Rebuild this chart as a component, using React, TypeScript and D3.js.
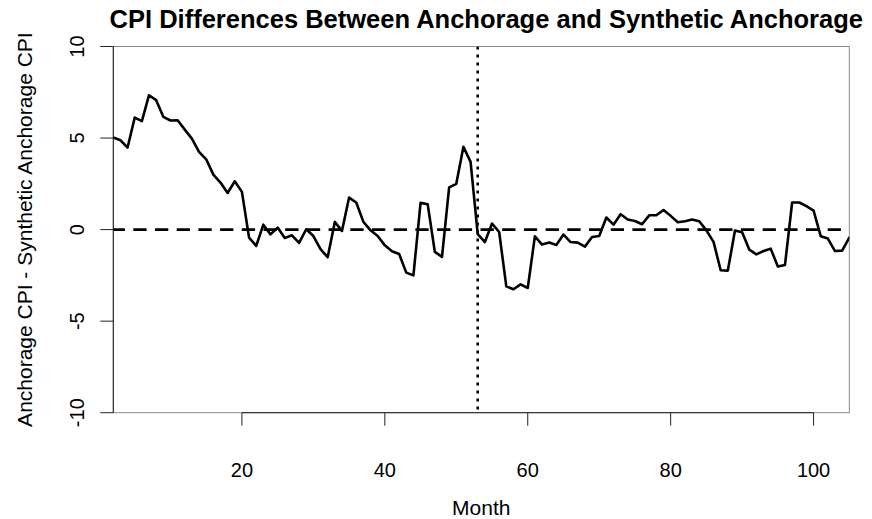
import React from 'react';
import * as d3 from 'd3';

// monthly CPI gap, Anchorage minus synthetic Anchorage (month 2 .. 105)
const startMonth = 2;
const cpiDiff = [
  5.03, 4.88, 4.48, 6.12, 5.92, 7.34, 7.07, 6.16, 5.96, 5.97,
  5.46, 4.97, 4.24, 3.84, 3.0, 2.57, 2.0, 2.64, 2.06, -0.44,
  -0.89, 0.27, -0.26, 0.11, -0.46, -0.31, -0.73, 0.02, -0.35, -1.07,
  -1.51, 0.42, -0.07, 1.75, 1.48, 0.42, -0.04, -0.35, -0.86, -1.18,
  -1.33, -2.35, -2.5, 1.46, 1.38, -1.22, -1.49, 2.31, 2.5, 4.52,
  3.7, -0.25, -0.68, 0.33, -0.13, -3.1, -3.26, -2.99, -3.19, -0.37,
  -0.82, -0.71, -0.84, -0.27, -0.68, -0.71, -0.93, -0.4, -0.35, 0.66,
  0.27, 0.84, 0.55, 0.47, 0.29, 0.78, 0.78, 1.07, 0.75, 0.4,
  0.46, 0.55, 0.46, -0.04, -0.67, -2.22, -2.24, -0.05, -0.15, -1.09,
  -1.35, -1.17, -1.04, -2.02, -1.93, 1.48, 1.48, 1.28, 1.04, -0.36,
  -0.49, -1.17, -1.15, -0.44,
];
const xTicks = [20, 40, 60, 80, 100];
const yTicks = [-10, -5, 0, 5, 10];
const treatmentMonth = 53;

const width = 872;
const height = 519;
const font = '"Liberation Sans", Arial, Helvetica, sans-serif';

export default function App() {
  const points = cpiDiff.map((v, i) => ({ month: startMonth + i, value: v }));

  const x = d3.scaleLinear()
    .domain([startMonth, startMonth + cpiDiff.length - 1])
    .range([113.3, 849.3]);
  const y = d3.scaleLinear().domain([-10, 10]).range([412.7, 46.5]);

  const line = d3.line<{ month: number; value: number }>()
    .x(d => x(d.month))
    .y(d => y(d.value));

  const [x0, x1] = x.range();
  const [y0, y1] = y.range();

  return (
    <svg width={width} height={height}
      style={{ position: 'absolute', left: 0, top: 0, background: '#fff' }}
      fontFamily={font}>
      <defs>
        <clipPath id="plot">
          <rect x={x0} y={y1} width={x1 - x0} height={y0 - y1} />
        </clipPath>
      </defs>

      {/* title */}
      <text x={(x0 + x1) / 2 + 5} y={28} textAnchor="middle" fontSize={25.5} fontWeight="bold">
        CPI Differences Between Anchorage and Synthetic Anchorage
      </text>

      {/* plot box */}
      <rect x={x0} y={y1} width={x1 - x0} height={y0 - y1} fill="none" stroke="#8a8a8a" strokeWidth={1} />

      <g clipPath="url(#plot)">
        <line x1={x0 - 1.7} x2={x1} y1={y(0)} y2={y(0)} stroke="#000" strokeWidth={2.6} strokeDasharray="13.3 8.4" />
        <line x1={x(treatmentMonth)} x2={x(treatmentMonth)} y1={y1} y2={y0} stroke="#000" strokeWidth={2.6} strokeDasharray="3 5" />
        <path d={line(points) ?? ''} fill="none" stroke="#000" strokeWidth={2.6} strokeLinejoin="round" strokeLinecap="round" />
      </g>

      {/* x axis */}
      <line x1={x(xTicks[0])} x2={x(xTicks[xTicks.length - 1])} y1={y0} y2={y0} stroke="#222" />
      {xTicks.map(t => (
        <g key={t}>
          <line x1={x(t)} x2={x(t)} y1={y0} y2={y0 + 13} stroke="#222" />
          <text x={x(t)} y={477} textAnchor="middle" fontSize={20}>{t}</text>
        </g>
      ))}
      <text x={(x0 + x1) / 2} y={515} textAnchor="middle" fontSize={21}>Month</text>

      {/* y axis */}
      <line x1={x0} x2={x0} y1={y(10)} y2={y(-10)} stroke="#222" />
      {yTicks.map(t => (
        <g key={t}>
          <line x1={x0 - 13} x2={x0} y1={y(t)} y2={y(t)} stroke="#222" />
          <text transform={`translate(83.5,${y(t)}) rotate(-90)`} textAnchor="middle" fontSize={20}>{t}</text>
        </g>
      ))}
      <text transform={`translate(32,${(y0 + y1) / 2}) rotate(-90)`} textAnchor="middle" fontSize={21}>
        Anchorage CPI - Synthetic Anchorage CPI
      </text>
    </svg>
  );
}
